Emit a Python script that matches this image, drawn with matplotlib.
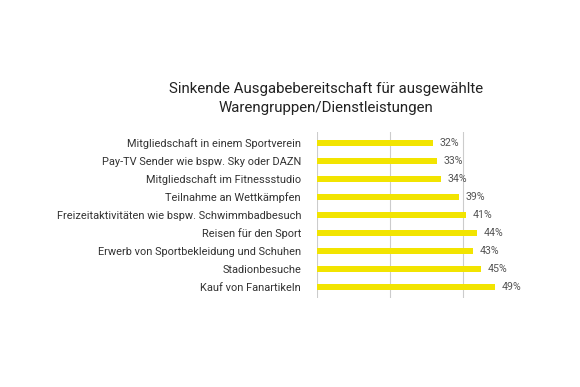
import matplotlib.pyplot as plt

categories = [
    "Mitgliedschaft in einem Sportverein",
    "Pay-TV Sender wie bspw. Sky oder DAZN",
    "Mitgliedschaft im Fitnessstudio",
    "Teilnahme an Wettkämpfen",
    "Freizeitaktivitäten wie bspw. Schwimmbadbesuch",
    "Reisen für den Sport",
    "Erwerb von Sportbekleidung und Schuhen",
    "Stadionbesuche",
    "Kauf von Fanartikeln",
]
values = [32, 33, 34, 39, 41, 44, 43, 45, 49]
title = "Sinkende Ausgabebereitschaft für ausgewählte\nWarengruppen/Dienstleistungen"

plt.rcParams['font.family'] = ['Roboto', 'DejaVu Sans']

fig = plt.figure(figsize=(5.8, 3.87), dpi=100)
ax = fig.add_axes([0.5466, 0.23, 0.345, 0.429])

pos = list(range(len(categories)))
ax.barh(pos, values, height=0.31, color='#F2E400', zorder=2)
for y, v in zip(pos, values):
    ax.text(v + 1.8, y, f"{v}%", va='center', ha='left', fontsize=7.7, color='#555555')

ax.set_xlim(0, 55)
ax.set_ylim(8.6, -0.6)
ax.set_yticks(pos)
ax.set_yticklabels(categories, fontsize=7.9, color='#333333')
ax.set_xticks([0, 20, 40])
ax.tick_params(axis='x', bottom=False, labelbottom=False)
ax.tick_params(axis='y', left=False, pad=8)
ax.grid(axis='x', color='#cccccc', linewidth=0.8, zorder=0)
for s in ax.spines.values():
    s.set_visible(False)

fig.text(0.562, 0.745, title, ha='center', va='center', fontsize=10.8,
         color='#222222', linespacing=1.45)

fig.savefig('out.png', dpi=100)
